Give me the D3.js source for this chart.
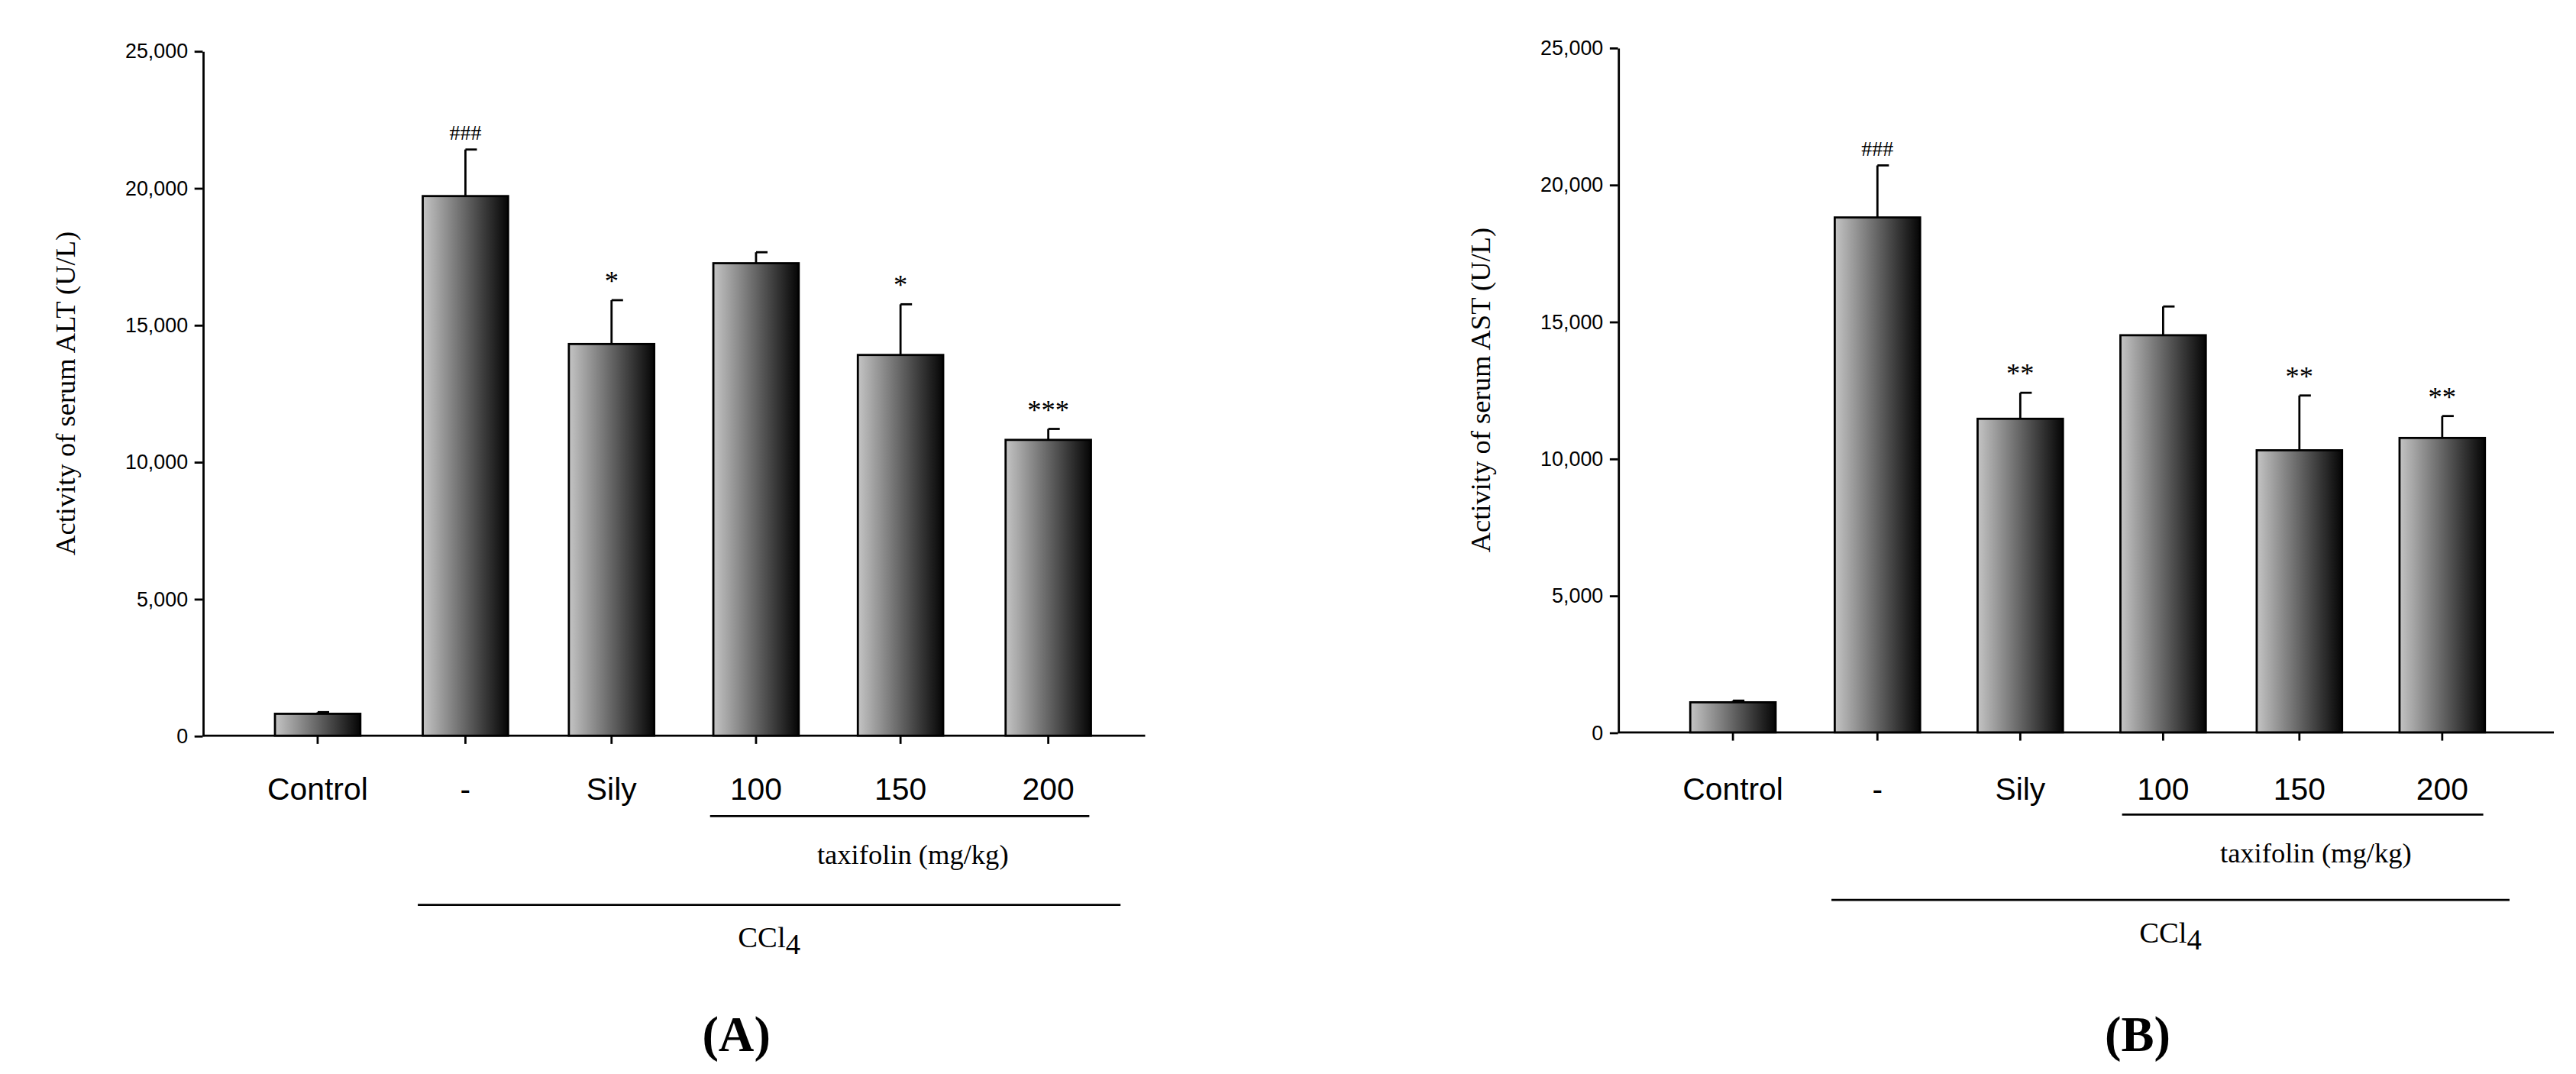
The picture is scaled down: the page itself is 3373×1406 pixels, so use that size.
<!DOCTYPE html>
<html><head><meta charset="utf-8">
<script src="https://cdn.jsdelivr.net/npm/d3@7"></script>
<style>body{margin:0;background:#fff}</style>
</head><body><svg id="c"></svg>
<script>
var categories = ["Control", "-", "Sily", "100", "150", "200"];
var altMean = [800, 19700, 14300, 17250, 13900, 10800];
var altErr = [60, 1700, 1600, 400, 1850, 400];
var altSig = ["", "###", "*", "", "*", "***"];
var astMean = [1100, 18800, 11450, 14500, 10300, 10750];
var astErr = [60, 1900, 950, 1050, 2000, 800];
var astSig = ["", "###", "**", "", "**", "**"];
var yTicks = [0, 5000, 10000, 15000, 20000, 25000];

var svg = d3.select("#c")
    .attr("width", 3373).attr("height", 1406)
    .attr("viewBox", "0 0 1568 654");

var grad = svg.append("defs").append("linearGradient").attr("id", "g");
grad.append("stop").attr("offset", "0%").attr("stop-color", "#c4c4c4");
grad.append("stop").attr("offset", "100%").attr("stop-color", "#050505");

function panel(x0, y0, y1, xEnd, centers, mean, err, sig, label, letter, tax, ccl) {
  var g = svg.append("g");
  var y = d3.scaleLinear().domain([0, 25000]).range([y0, y1]);
  var bw = 52;

  g.append("g").attr("transform", "translate(" + x0 + ",0)")
      .call(d3.axisLeft(y).tickValues(yTicks).tickSize(5).tickSizeOuter(0).tickPadding(4))
      .call(function(a) {
        a.select(".domain").attr("stroke-width", 1.3);
        a.selectAll("line").attr("stroke-width", 1.3);
        a.selectAll("text").attr("font-family", "Liberation Sans").attr("font-size", 12.5).attr("fill", "#000");
      });
  g.append("line").attr("x1", x0).attr("x2", xEnd).attr("y1", y0).attr("y2", y0)
      .attr("stroke", "#000").attr("stroke-width", 1.3);

  g.append("text").attr("transform", "translate(" + (x0 - 78) + "," + ((y0 + y1) / 2) + ") rotate(-90)")
      .attr("text-anchor", "middle").attr("font-family", "Liberation Serif").attr("font-size", 17)
      .text(label);

  categories.forEach(function(c, i) {
    var cx = centers[i], top = y(mean[i]), et = y(mean[i] + err[i]);
    g.append("line").attr("x1", cx).attr("x2", cx).attr("y1", top).attr("y2", et).attr("stroke", "#000").attr("stroke-width", 1.3);
    g.append("line").attr("x1", cx).attr("x2", cx + 7).attr("y1", et).attr("y2", et).attr("stroke", "#000").attr("stroke-width", 1.3);
    g.append("rect").attr("x", cx - bw / 2).attr("y", top).attr("width", bw).attr("height", y0 - top)
        .attr("fill", "url(#g)").attr("stroke", "#000").attr("stroke-width", 1.3);
    g.append("line").attr("x1", cx).attr("x2", cx).attr("y1", y0).attr("y2", y0 + 5).attr("stroke", "#000").attr("stroke-width", 1.3);
    g.append("text").attr("x", cx).attr("y", 487).attr("text-anchor", "middle")
        .attr("font-family", "Liberation Sans").attr("font-size", 19).text(c);
    if (sig[i]) g.append("text").attr("x", cx).attr("y", et - 6).attr("text-anchor", "middle")
        .attr("font-family", "Liberation Serif").attr("font-size", sig[i][0] == "#" ? 13 : 17).text(sig[i]);
  });

  g.append("line").attr("x1", tax[0]).attr("x2", tax[1]).attr("y1", tax[2]).attr("y2", tax[2]).attr("stroke", "#000").attr("stroke-width", 1.3);
  g.append("text").attr("x", (tax[0] + tax[1]) / 2 + 8).attr("y", tax[2] + 29).attr("text-anchor", "middle")
      .attr("font-family", "Liberation Serif").attr("font-size", 17).text("taxifolin (mg/kg)");
  g.append("line").attr("x1", ccl[0]).attr("x2", ccl[1]).attr("y1", ccl[2]).attr("y2", ccl[2]).attr("stroke", "#000").attr("stroke-width", 1.3);
  var t = g.append("text").attr("x", (ccl[0] + ccl[1]) / 2).attr("y", ccl[2] + 26).attr("text-anchor", "middle")
      .attr("font-family", "Liberation Serif").attr("font-size", 18);
  t.append("tspan").text("CCl");
  t.append("tspan").attr("dy", 4).attr("font-size", 18).text("4");
  g.append("text").attr("x", (ccl[0] + ccl[1]) / 2 - 20).attr("y", 640).attr("text-anchor", "middle")
      .attr("font-family", "Liberation Serif").attr("font-size", 30).attr("font-weight", "bold").text("(" + letter + ")");
}

panel(123, 448, 31, 697, [193, 283, 372, 460, 548, 638], altMean, altErr, altSig,
      "Activity of serum ALT (U/L)", "A", [432, 663, 497], [254, 682, 551]);
panel(985, 446, 29, 1555, [1055, 1143, 1230, 1317, 1400, 1487], astMean, astErr, astSig,
      "Activity of serum AST (U/L)", "B", [1292, 1512, 496], [1115, 1528, 548]);
</script></body></html>
